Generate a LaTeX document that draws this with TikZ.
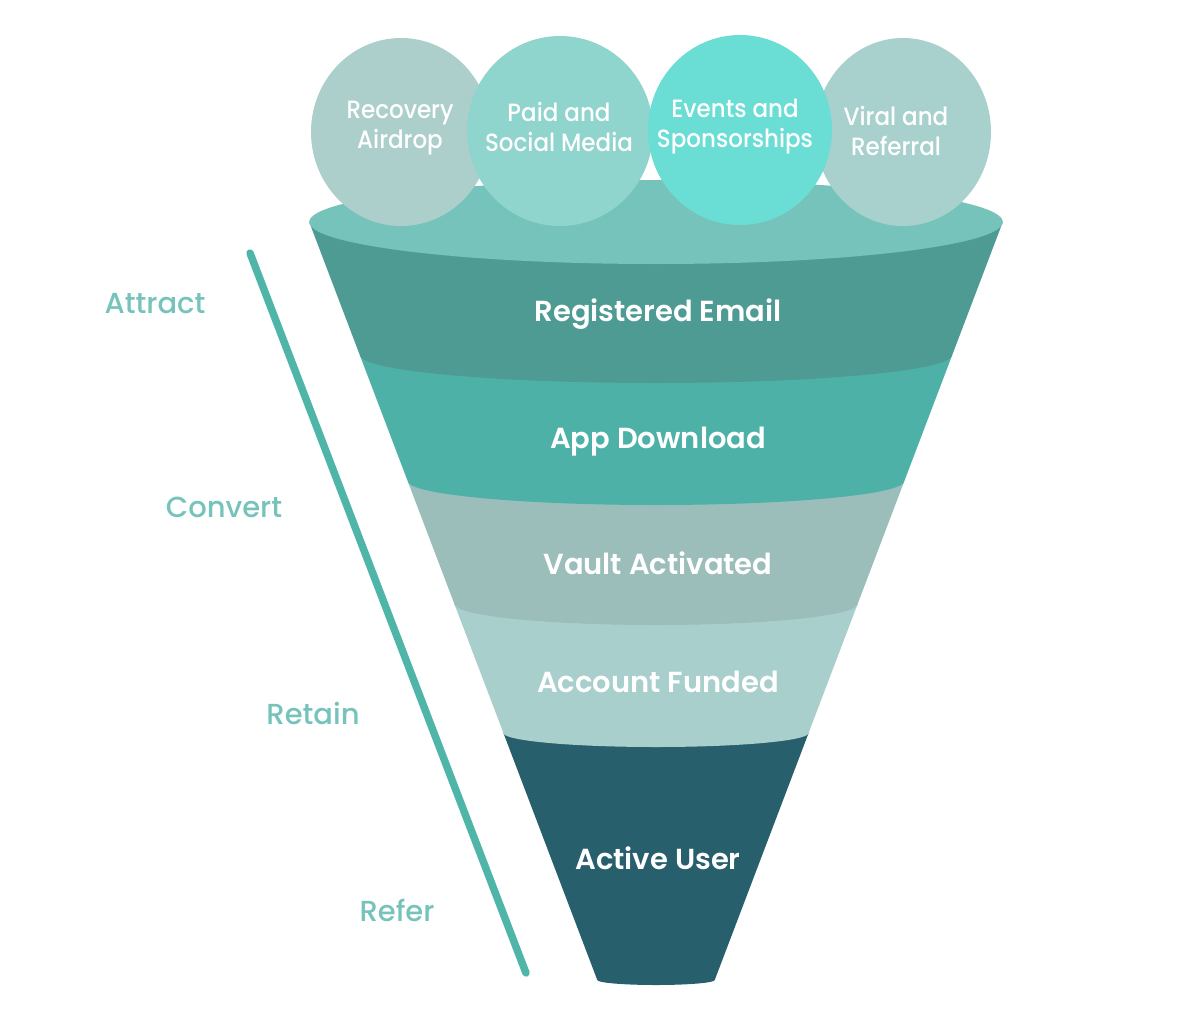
\documentclass[tikz,border=0pt]{standalone}
\usepackage{fontspec}
\setmainfont{Poppins}
\newfontfamily\medfont{Poppins Medium}
\newfontfamily\narrowfont{Poppins Medium}[FakeStretch=0.92]
\newfontfamily\semifont{Poppins SemiBold}

\definecolor{rim}{HTML}{76C3BB}
\definecolor{email}{HTML}{4E9B94}
\definecolor{app}{HTML}{4DB1A8}
\definecolor{vault}{HTML}{9BBEBA}
\definecolor{funded}{HTML}{A9CFCD}
\definecolor{active}{HTML}{27606C}
\definecolor{bubbleA}{HTML}{ADCFCC}
\definecolor{bubbleB}{HTML}{8FD4CD}
\definecolor{bubbleC}{HTML}{6ADDD5}
\definecolor{bubbleD}{HTML}{A8D1CE}
\definecolor{stage}{HTML}{76C3BB}
\definecolor{stageline}{HTML}{4FB5A8}

\tikzset{
  bubbletext/.style={text=white, align=center,
                     font=\narrowfont\fontsize{25}{30}\selectfont},
  bandtext/.style={text=white, font=\semifont\fontsize{29}{34}\selectfont},
  stagetext/.style={text=stage, font=\medfont\fontsize{29}{34}\selectfont},
  declare function={hw(\y)=344.5-0.38*(\y-228);}
}

\begin{document}
\begin{tikzpicture}[x=1pt,y=-1pt]
    \useasboundingbox (0,0) rectangle (1204,1030);

    % funnel bands, lowest first
    \foreach \t/\b/\d/\c in {733/980/5/active, 604/733/14/funded,
                             481/604/21/vault, 355/481/24/app,
                             222/355/28/email}
      \fill[\c] ({656-hw(\t)},\t) -- ({656-hw(\b)},\b)
          arc[start angle=180, end angle=0, x radius={hw(\b)}, y radius=\d]
          -- ({656+hw(\t)},\t) -- cycle;
    \fill[rim] (656,222) ellipse[x radius={hw(222)}, y radius=42];

    % bubbles on the rim
    \fill[bubbleA] (401,132) ellipse[x radius=90, y radius=94];
    \fill[bubbleB] (560,131) ellipse[x radius=93, y radius=95];
    \fill[bubbleD] (903,132) ellipse[x radius=88, y radius=94];
    \fill[bubbleC] (740,130) ellipse[x radius=92, y radius=95];

    \node[bubbletext] (recovery) at (400,128) {Recovery\\Airdrop};
    \node[bubbletext] (paid) at (559,127) {Paid and\\Social Media};
    \node[bubbletext] (events) at (735,127) {Events and\\Sponsorships};
    \node[bubbletext] (viral) at (896,131) {Viral and\\Referral};

    \node[bandtext] (email) at (658,314) {Registered Email};
    \node[bandtext] (app) at (658,442) {App Download};
    \node[bandtext] (vault) at (658,563) {Vault Activated};
    \node[bandtext] (funded) at (658,682) {Account Funded};
    \node[bandtext] (active) at (658,858) {Active User};

    % stages on the left
    \coordinate (linetop) at (250,253);
    \coordinate (linebot) at (526,973);
    \draw[stageline, line width=7.5, line cap=round] (linetop) -- (linebot);

    \node[stagetext] (attract) at (155,304) {Attract};
    \node[stagetext] (convert) at (224,507) {Convert};
    \node[stagetext] (retain) at (313,713) {Retain};
    \node[stagetext] (refer) at (397,910) {Refer};
\end{tikzpicture}
\end{document}
